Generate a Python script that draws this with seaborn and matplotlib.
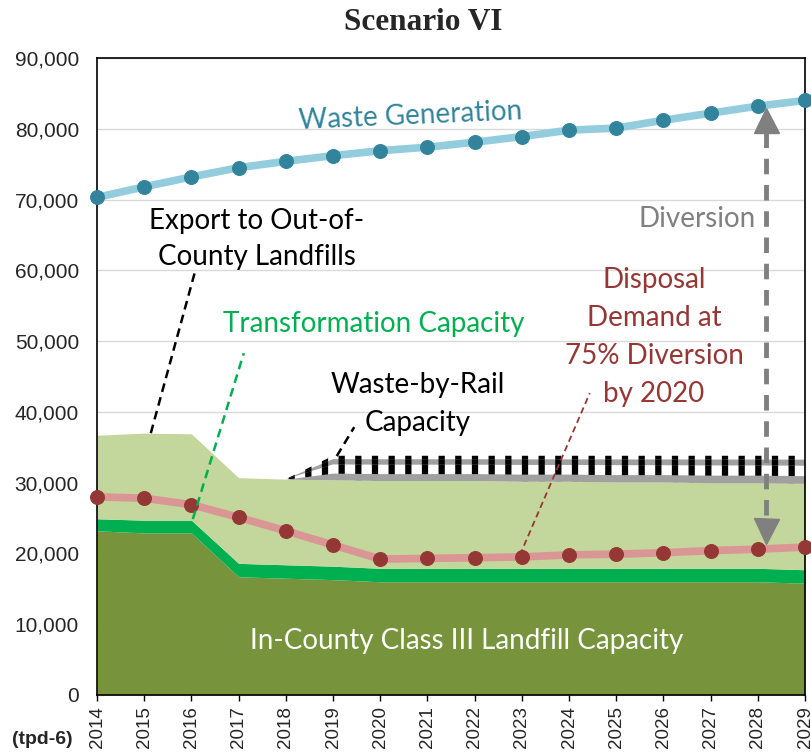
import matplotlib
matplotlib.use("Agg")
import matplotlib.pyplot as plt
import seaborn as sns
import pandas as pd
import numpy as np

# ---------------- data ----------------
years = list(range(2014, 2030))
waste_generation = [70300, 71800, 73200, 74500, 75400, 76200, 76900, 77400,
                    78100, 78900, 79800, 80100, 81200, 82200, 83200, 84000]
disposal_demand = [28000, 27800, 26900, 25100, 23200, 21200, 19200, 19300,
                   19400, 19500, 19800, 19900, 20100, 20400, 20600, 20900]
in_county = [23200, 22900, 22900, 16700, 16500, 16300, 16000, 16000,
             16000, 16000, 16000, 16000, 16000, 16000, 16000, 15800]
transformation = [1700, 1800, 1800, 1900, 1900, 1900, 1900, 1900,
                  1900, 1900, 1900, 1900, 1900, 1900, 1900, 1900]
export = [11800, 12300, 12200, 12100, 12100, 12200, 12400, 12400,
          12400, 12300, 12300, 12200, 12200, 12100, 12100, 12200]
rail = [0, 0, 0, 0, 0, 3400, 3500, 3500, 3500, 3600, 3600, 3700,
        3700, 3800, 3800, 3900]
y_ticks = [0, 10000, 20000, 30000, 40000, 50000, 60000, 70000, 80000, 90000]

# ---------------- style ----------------
sns.set_theme(style="white")
plt.rcParams["font.family"] = ["Liberation Sans", "DejaVu Sans"]
plt.rcParams["hatch.linewidth"] = 4.5
ANN_FONT = ["Lato", "DejaVu Sans"]
FS = 20

fig = plt.figure(figsize=(8.11, 7.55), dpi=100)
ax = fig.add_axes([97 / 811, 1 - 695 / 755, (805 - 97) / 811, (695 - 58) / 755])

yrs = np.array(years, dtype=float)
s1 = np.array(in_county, dtype=float)
s2 = s1 + np.array(transformation)
s3 = s2 + np.array(export)
s4 = s3 + np.array(rail)

ax.fill_between(yrs, 0, s1, color="#77933C", lw=0, zorder=2)
ax.fill_between(yrs, s1, s2, color="#00B050", lw=0, zorder=2)
ax.fill_between(yrs, s2, s3, color="#C3D69B", lw=0, zorder=2)

# rail band: white with black bars, grey checker strips top and bottom
rail_arr = np.array(rail, dtype=float)
ax.fill_between(yrs, s3, s4, facecolor="white", edgecolor="black", hatch="|", lw=0, zorder=2)
ax.fill_between(yrs, s3, s3 + 0.28 * rail_arr, facecolor="#a0a0a0", lw=0, zorder=3)
ax.fill_between(yrs, s3 + 0.64 * rail_arr, s3 + 0.86 * rail_arr, facecolor="#a0a0a0",
                edgecolor="black", hatch="|", lw=0, zorder=3)

df_w = pd.DataFrame({"year": years, "value": waste_generation})
df_d = pd.DataFrame({"year": years, "value": disposal_demand})
sns.lineplot(data=df_w, x="year", y="value", ax=ax, color="#93CDDD", lw=5.5,
             marker="o", markersize=10, markerfacecolor="#31849B",
             markeredgecolor="#31849B", clip_on=False, zorder=5)
sns.lineplot(data=df_d, x="year", y="value", ax=ax, color="#D99694", lw=5.5,
             marker="o", markersize=10, markerfacecolor="#953735",
             markeredgecolor="#953735", clip_on=False, zorder=5)

ax.set_xlim(2014, 2029)
ax.set_ylim(0, 90000)
ax.set_xticks(years)
ax.set_xticklabels([str(y) for y in years], rotation=90, fontsize=13.5)
ax.set_yticks(y_ticks)
ax.set_yticklabels([f"{v:,}" for v in y_ticks], fontsize=15)
ax.tick_params(axis="x", length=4, width=1, color="black", pad=4, direction="out", bottom=True)
ax.tick_params(axis="y", length=0, pad=13)
ax.set_xlabel("")
ax.set_ylabel("")
ax.grid(axis="y", color="#D9D9D9", lw=1, zorder=1)
ax.set_axisbelow(True)
for sp in ax.spines.values():
    sp.set_visible(True)
    sp.set_color("black")
    sp.set_linewidth(1.2)
    sp.set_zorder(4)

# ---------------- annotations ----------------
ax.text(2020.63, 81780, "Waste Generation", color="#31849B", fontsize=FS,
        family=ANN_FONT, ha="center", va="center", rotation=2.5,
        rotation_mode="anchor", zorder=6)
ax.text(2017.39, 64400, "Export to Out-of-\nCounty Landfills", color="black",
        fontsize=FS, family=ANN_FONT, ha="center", va="center", linespacing=1.5, zorder=6)
ax.text(2019.87, 52400, "Transformation Capacity", color="#00B050", fontsize=FS,
        family=ANN_FONT, ha="center", va="center", zorder=6)
ax.text(2020.80, 41100, "Waste-by-Rail\nCapacity", color="black", fontsize=FS,
        family=ANN_FONT, ha="center", va="center", linespacing=1.55, zorder=6)
ax.text(2025.80, 50600, "Disposal\nDemand at\n75% Diversion\nby 2020", color="#953735",
        fontsize=FS, family=ANN_FONT, ha="center", va="center", linespacing=1.58, zorder=6)
ax.text(2026.71, 67200, "Diversion", color="#808080", fontsize=FS,
        family=ANN_FONT, ha="center", va="center", zorder=6)
ax.text(2021.84, 7600, "In-County Class III Landfill Capacity", color="white", fontsize=FS,
        family=ANN_FONT, ha="center", va="center", zorder=6)

# leader lines
dash = (0, (3.5, 2.2))
ax.plot([2015.14, 2016.08], [37000, 59900], color="black", lw=1.8, ls=dash, zorder=6)
ax.plot([2016.03, 2017.11], [24860, 48300], color="#00B050", lw=1.8, ls=dash, zorder=6)
ax.plot([2019.08, 2019.45], [33760, 37850], color="black", lw=1.8, ls=dash, zorder=6)
ax.plot([2022.96, 2024.44], [19770, 42650], color="#953735", lw=1.3, ls=dash, zorder=6)

# diversion double arrow
ax.plot([2028.17, 2028.17], [79500, 25000], color="#808080", lw=3.5,
        ls=(0, (3.2, 2.2)), zorder=6)
ax.plot([2028.17], [81300], marker="^", markersize=18, color="#808080", lw=0, zorder=7)
ax.plot([2028.17], [23200], marker="v", markersize=18, color="#808080", lw=0, zorder=7)

fig.text(423.5 / 811, 1 - 23 / 755, "Scenario VI", fontsize=22.5, fontweight="bold",
         family=["Liberation Serif", "DejaVu Serif"], ha="center", va="center")
fig.text(42 / 811, 1 - 740 / 755, "(tpd-6)", fontsize=14, fontweight="bold",
         ha="center", va="center")

fig.savefig("out.png", dpi=100)
